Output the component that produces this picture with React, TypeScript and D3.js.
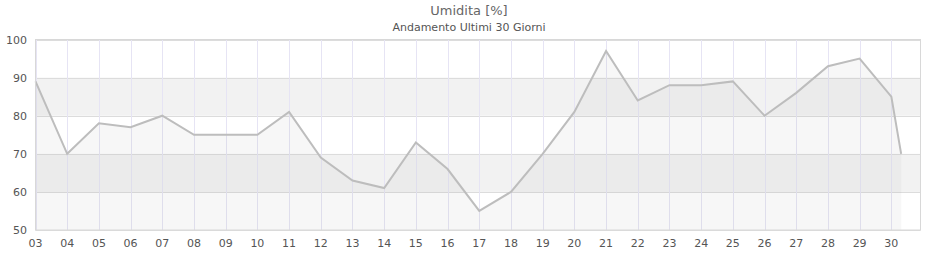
import React from "react";
import * as d3 from "d3";

const title = "Umidita [%]";
const subtitle = "Andamento Ultimi 30 Giorni";
const dayLabels = ["03","04","05","06","07","08","09","10","11","12","13","14","15","16","17","18","19","20","21","22","23","24","25","26","27","28","29","30"];
// day offsets (days since the 03) of each reading
const dayOffsets = [0,1,2,3,4,5,6,7,8,9,10,11,12,13,14,15,16,17,18,19,20,21,22,23,24,25,26,27,27.31];
const humidity = [89,70,78,77,80,75,75,75,81,69,63,61,73,66,55,60,70,81,97,84,88,88,89,80,86,93,95,85,70];
const yTicks = [50,60,70,80,90,100];
const bands = [[60,70],[80,90]];
const xDomainEnd = 27.92;

const W = 940, H = 260;
const M = { left: 35.5, right: 19.5, top: 39.5, bottom: 30 };

export default function App() {
  const x = d3.scaleLinear().domain([0, xDomainEnd]).range([M.left, W - M.right]);
  const y = d3.scaleLinear().domain([50, 100]).range([H - M.bottom, M.top]);
  const pts = dayOffsets.map((d, i) => [d, humidity[i]] as [number, number]);
  const line = d3.line<[number, number]>().x(d => x(d[0])).y(d => y(d[1]));
  const area = d3.area<[number, number]>().x(d => x(d[0])).y0(y(50)).y1(d => y(d[1]));
  const font = "DejaVu Sans, sans-serif";
  return (
    <div style={{ position: "absolute", left: 0, top: 0 }}>
      <svg width={W} height={H} style={{ display: "block" }} fontFamily={font}>
        <rect x={0} y={0} width={W} height={H} fill="#fff" />
        {bands.map(([a, b], i) => (
          <rect key={i} x={x(0)} y={y(b)} width={x(xDomainEnd) - x(0)} height={y(a) - y(b)} fill="#f2f2f2" />
        ))}
        {yTicks.map(t => (
          <line key={t} x1={x(0)} x2={x(xDomainEnd)} y1={Math.round(y(t)) + 0.5} y2={Math.round(y(t)) + 0.5} stroke="#dcdcdc" strokeWidth={1} />
        ))}
        {dayLabels.map((l, i) => (
          <line key={l} x1={Math.round(x(i)) + 0.5} x2={Math.round(x(i)) + 0.5} y1={y(100)} y2={y(50)} stroke="#e6e4f4" strokeWidth={1} />
        ))}
        <path d={area(pts) || ""} fill="#9a9a9a" fillOpacity={0.075} />
        <path d={line(pts) || ""} fill="none" stroke="#bdbdbd" strokeWidth={2} strokeLinejoin="miter" />
        <rect x={x(0)} y={y(100)} width={x(xDomainEnd) - x(0)} height={y(50) - y(100)} fill="none" stroke="#d8d8d8" strokeWidth={1} />
        {yTicks.map(t => (
          <text key={t} x={27} y={y(t) + 4} textAnchor="end" fontSize={11} fill="#555">{t}</text>
        ))}
        {dayLabels.map((l, i) => (
          <text key={l} x={x(i)} y={247} textAnchor="middle" fontSize={11} fill="#555">{l}</text>
        ))}
        <text x={469} y={15} textAnchor="middle" fontSize={13} fill="#666">{title}</text>
        <text x={469} y={31} textAnchor="middle" fontSize={11} fill="#555">{subtitle}</text>
      </svg>
    </div>
  );
}
